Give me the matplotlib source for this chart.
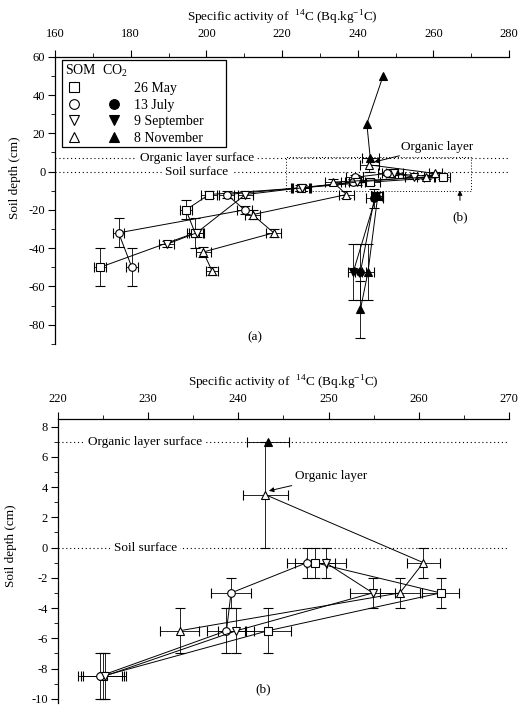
import numpy as np
import matplotlib
matplotlib.use('Agg')
import matplotlib.pyplot as plt
from matplotlib.lines import Line2D
from matplotlib.legend_handler import HandlerTuple
from matplotlib.patches import Rectangle
from matplotlib.ticker import MultipleLocator

plt.rcParams['font.family'] = ['Liberation Serif', 'DejaVu Serif']
plt.rcParams['mathtext.fontset'] = 'custom'
plt.rcParams['mathtext.rm'] = 'Liberation Serif'
plt.rcParams['axes.unicode_minus'] = False

# SOM, 26 May (open squares)
may_depth = [-1, -3, -5.5, -8.5, -12, -20, -32, -50]
may_act = [248.5, 262.4, 243.3, 225.0, 200.7, 194.6, 197.0, 171.9]
may_xerr = [2.2, 2.0, 2.5, 2.4, 2.0, 1.5, 2.0, 1.5]
may_yerr = [1, 1, 1.5, 1.5, 2, 5, 8, 10]

# SOM, 13 July (open circles)
jul_depth = [-1, -3, -5.5, -8.5, -12, -20, -32, -50]
jul_act = [247.6, 239.2, 238.7, 224.7, 205.4, 210.1, 176.8, 180.3]
jul_xerr = [2.2, 2.2, 2.2, 2.4, 2.0, 2.0, 1.5, 1.5]
jul_yerr = [1, 1, 1.5, 1.5, 2, 2, 7.5, 10]

# SOM, 9 September (open down triangles)
sep_depth = [-1, -3, -5.5, -8.5, -12, -32, -38]
sep_act = [249.7, 254.9, 239.8, 225.2, 210.3, 197.4, 189.5]
sep_xerr = [2.2, 2.5, 2.0, 2.4, 2.0, 2.0, 2.0]
sep_yerr = [1, 1, 1.5, 1.5, 2, 2, 1.5]

# SOM, 8 November (open up triangles)
nov_depth = [3.5, -1, -3, -5.5, -12, -22.5, -32, -42, -52]
nov_act = [243.0, 260.5, 257.9, 233.5, 237.0, 212.2, 217.8, 199.2, 201.5]
nov_xerr = [2.5, 1.8, 2.2, 2.2, 2.0, 2.0, 2.0, 2.0, 1.5]
nov_yerr = [3.5, 1, 1, 1.5, 2, 2.5, 2, 2.5, 2]

# CO2 (filled markers)
jul_co2_depth = [-14, -52.5]
jul_co2_act = [244.4, 240.7]
jul_co2_xerr = [2.2, 1.5]
jul_co2_yerr = [5, 14.5]

sep_co2_depth = [-12.5, -52.5]
sep_co2_act = [244.9, 238.8]
sep_co2_xerr = [1.5, 1.5]
sep_co2_yerr = [2, 14.5]

nov_co2_soil_depth = [-12.5, -52.5, -72]
nov_co2_soil_act = [245.3, 242.7, 240.7]
nov_co2_soil_xerr = [1.5, 1.5, np.nan]
nov_co2_soil_yerr = [2, 14.5, 15]

nov_co2_air_depth = [7, 25, 50]
nov_co2_air_act = [243.3, 242.4, 246.7]
nov_co2_air_xerr = [2.3, np.nan, np.nan]
nov_co2_air_yerr = [np.nan, np.nan, np.nan]

series = [
    (may_act, may_depth, may_xerr, may_yerr, 's', False),
    (jul_act, jul_depth, jul_xerr, jul_yerr, 'o', False),
    (sep_act, sep_depth, sep_xerr, sep_yerr, 'v', False),
    (nov_act, nov_depth, nov_xerr, nov_yerr, '^', False),
    (jul_co2_act, jul_co2_depth, jul_co2_xerr, jul_co2_yerr, 'o', True),
    (sep_co2_act, sep_co2_depth, sep_co2_xerr, sep_co2_yerr, 'v', True),
    (nov_co2_soil_act, nov_co2_soil_depth, nov_co2_soil_xerr, nov_co2_soil_yerr, '^', True),
    (nov_co2_air_act, nov_co2_air_depth, nov_co2_air_xerr, nov_co2_air_yerr, '^', True),
]

xtitle = r'Specific activity of  $^{14}$C (Bq.kg$^{-1}$C)'
dots = (0, (1, 2.5))

fig = plt.figure(figsize=(5.19, 7.09), dpi=100)
ax1 = fig.add_axes([0.106, 0.515, 0.875, 0.405])
ax2 = fig.add_axes([0.111, 0.008, 0.870, 0.401])


def draw(ax, dmin=-999, dmax=999):
    # (b) only shows the samples taken between -8.5 cm and the organic layer surface
    for act, depth, xe, ye, mk, filled in series:
        keep = [i for i, d in enumerate(depth) if dmin <= d <= dmax]
        if not keep:
            continue
        ax.errorbar([act[i] for i in keep], [depth[i] for i in keep],
                    xerr=[xe[i] for i in keep], yerr=[ye[i] for i in keep],
                    marker=mk, ms=5.5, mfc='k' if filled else 'w', mec='k', mew=0.8,
                    color='k', lw=0.7, elinewidth=0.6, capsize=3.5, capthick=0.6, zorder=3)


def style(ax, xlim, ylim, xmaj, ymaj, xpad):
    ax.set_xlim(*xlim)
    ax.set_ylim(*ylim)
    ax.xaxis.tick_top()
    ax.xaxis.set_label_position('top')
    ax.spines['bottom'].set_visible(False)
    ax.spines['right'].set_visible(False)
    ax.spines['top'].set_linewidth(0.9)
    ax.spines['left'].set_linewidth(0.9)
    ax.xaxis.set_major_locator(MultipleLocator(xmaj))
    ax.xaxis.set_minor_locator(MultipleLocator(xmaj / 2))
    ax.yaxis.set_major_locator(MultipleLocator(ymaj))
    ax.yaxis.set_minor_locator(MultipleLocator(ymaj / 2))
    ax.tick_params(which='major', direction='out', length=5, width=0.8, labelsize=9)
    ax.tick_params(which='minor', direction='out', length=3, width=0.6)
    ax.tick_params(axis='x', which='both', top=True, bottom=False, pad=xpad)
    ax.tick_params(axis='y', pad=2)
    ax.set_xlabel(xtitle, fontsize=9.5, labelpad=5)
    ax.set_ylabel('Soil depth (cm)', fontsize=9.5)


def surfaces(ax, xc):
    ax.axhline(7, ls=dots, lw=0.8, color='k', zorder=1)
    ax.axhline(0, ls=dots, lw=0.8, color='k', zorder=1)
    box = dict(boxstyle='square,pad=0.25', fc='white', ec='none')
    ax.text(xc, 7, 'Organic layer surface', ha='center', va='center', fontsize=9.5, bbox=box, zorder=2)
    ax.text(xc, 0, 'Soil surface', ha='center', va='center', fontsize=9.5, bbox=box, zorder=2)


# (a) full profile
style(ax1, (160, 280), (-90, 60), 20, 20, 7)
surfaces(ax1, 197.5)
draw(ax1)
ax1.add_patch(Rectangle((221, -10), 49, 17.5, fill=False, ls=(0, (1, 2)), lw=0.7, zorder=2))
ax1.annotate('(b)', xy=(267, -9.8), xytext=(267, -24), ha='center', va='center', fontsize=9.5,
             arrowprops=dict(arrowstyle='-|>', color='k', lw=0.7, mutation_scale=7, shrinkA=6, shrinkB=0))
ax1.annotate('Organic layer', xy=(244.3, 5.0), xytext=(251.3, 13), ha='left', va='center', fontsize=9.5,
             arrowprops=dict(arrowstyle='-|>', color='k', lw=0.7, mutation_scale=7, shrinkA=1, shrinkB=0))
ax1.text(212.9, -86.3, '(a)', ha='center', va='center', fontsize=9.5)
ax1.yaxis.set_label_coords(-0.075, 0.58)

blank = Line2D([], [], ls='none', marker='None')
def lh(mk, filled):
    return Line2D([], [], ls='none', marker=mk, ms=7, mfc='k' if filled else 'w', mec='k', mew=0.8)
handles = [(lh('s', False), blank), (lh('o', False), lh('o', True)),
           (lh('v', False), lh('v', True)), (lh('^', False), lh('^', True))]
labels = ['26 May', '13 July', '9 September', '8 November']
leg = ax1.legend(handles, labels, handler_map={tuple: HandlerTuple(ndivide=None, pad=1.6)},
                 title='SOM  CO$_2$', loc='upper left', bbox_to_anchor=(0.015, 0.70, 0.362, 0.29),
                 mode='expand', borderaxespad=0, fancybox=False, edgecolor='k', framealpha=1,
                 handlelength=4.2, handletextpad=0.8, labelspacing=0.25, borderpad=0.2,
                 alignment='left', fontsize=10, title_fontsize=10)
leg.get_frame().set_linewidth(0.9)

# (b) zoom near the surface
style(ax2, (220, 270), (-10.3, 8.5), 10, 2, 5)
surfaces(ax2, 229.7)
draw(ax2, -9, 7.5)
ax2.annotate('Organic layer', xy=(243.4, 3.75), xytext=(246.3, 4.7), ha='left', va='center', fontsize=9.5,
             arrowprops=dict(arrowstyle='-|>', color='k', lw=0.7, mutation_scale=7, shrinkA=1, shrinkB=0))
ax2.text(242.8, -9.4, '(b)', ha='center', va='center', fontsize=9.5)
ax2.yaxis.set_label_coords(-0.09, 0.554)

fig.savefig('out.png', dpi=100)
